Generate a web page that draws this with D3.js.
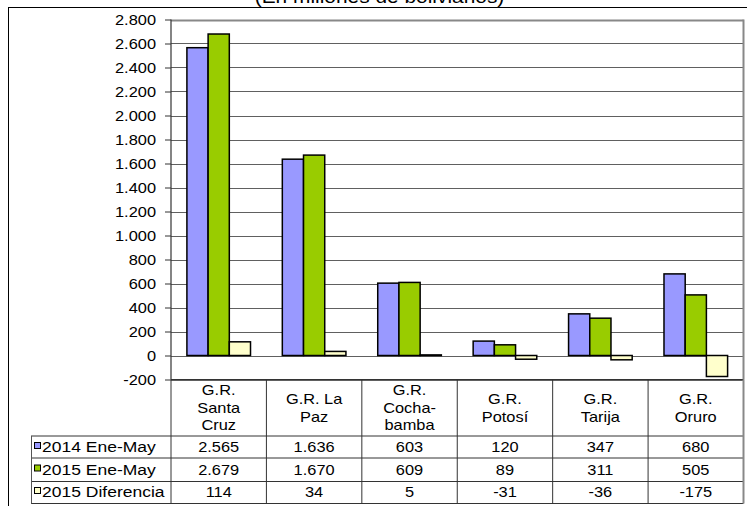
<!DOCTYPE html>
<html>
<head>
<meta charset="utf-8">
<script src="https://cdn.jsdelivr.net/npm/d3@7"></script>
<style>
  html, body { margin: 0; padding: 0; background: #fff; }
  svg { display: block; }
  text { font-family: "Liberation Sans", Arial, sans-serif; fill: #000; }
</style>
</head>
<body>
<script>
// ---- data ----
const title = "(En millones de bolivianos)";
const categories = ["G.R. Santa Cruz", "G.R. La Paz", "G.R. Cochabamba", "G.R. Potosí", "G.R. Tarija", "G.R. Oruro"];
const categoryLines = [["G.R.", "Santa", "Cruz"], ["G.R. La", "Paz"], ["G.R.", "Cocha-", "bamba"], ["G.R.", "Potosí"], ["G.R.", "Tarija"], ["G.R.", "Oruro"]];
const seriesNames = ["2014 Ene-May", "2015 Ene-May", "2015 Diferencia"];
const values2014 = [2565, 1636, 603, 120, 347, 680];
const values2015 = [2679, 1670, 609, 89, 311, 505];
const valuesDiff = [114, 34, 5, -31, -36, -175];
const seriesColors = ["#9999FF", "#99CC00", "#FFFFCC"];
const yTicks = [-200, 0, 200, 400, 600, 800, 1000, 1200, 1400, 1600, 1800, 2000, 2200, 2400, 2600, 2800];

const seriesValues = [values2014, values2015, valuesDiff];

const W = 747, H = 506;
const svg = d3.select("body").append("svg").attr("width", W).attr("height", H);

const loc = d3.formatLocale({decimal: ",", thousands: ".", grouping: [3], currency: ["", ""], minus: "-"});
const fmt = loc.format(",d");

const SX = 1.13;   // horizontal stretch of text
const FS = 14.5;
function stext(g, x, y, str, anchor, size) {
  return g.append("text")
    .attr("transform", `translate(${x},${y}) scale(${SX},1)`)
    .attr("text-anchor", anchor)
    .attr("font-size", size || FS)
    .text(str);
}

// layout
const plotL = 171, plotR = 743.5, plotT = 19.5, plotB = 379.5;
const x0 = d3.scaleBand().domain(categories).range([plotL, plotR]).paddingInner(0).paddingOuter(0);
const x1 = d3.scaleBand().domain(seriesNames).range([0, x0.bandwidth()]).paddingInner(0).paddingOuter(0.75);
const y = d3.scaleLinear().domain([-200, 2800]).range([plotB, plotT]);

// outer frame
svg.append("line").attr("x1", 8).attr("x2", W).attr("y1", 7.5).attr("y2", 7.5).attr("stroke", "#000").attr("stroke-width", 1);
svg.append("line").attr("x1", 8.5).attr("x2", 8.5).attr("y1", 7.5).attr("y2", H).attr("stroke", "#000").attr("stroke-width", 1);

// title (partially cut, as in the reference)
stext(svg, 379.5, 3, title, "middle", 18.5);

// gridlines
svg.append("g").selectAll("line").data(yTicks).join("line")
  .attr("x1", plotL).attr("x2", plotR)
  .attr("y1", d => Math.round(y(d)) + 0.5).attr("y2", d => Math.round(y(d)) + 0.5)
  .attr("stroke", d => d === 2800 ? "#888" : "#606060")
  .attr("stroke-width", d => d === 2800 ? 2 : 1);

// plot right border
svg.append("line").attr("x1", plotR).attr("x2", plotR).attr("y1", plotT).attr("y2", plotB)
  .attr("stroke", "#888").attr("stroke-width", 2);

// bars
const groups = svg.append("g").selectAll("g").data(categories).join("g")
  .attr("transform", d => `translate(${x0(d)},0)`);
groups.selectAll("rect")
  .data((c, i) => seriesNames.map((s, k) => ({s, k, v: seriesValues[k][i]})))
  .join("rect")
  .attr("x", d => x1(d.s))
  .attr("width", x1.bandwidth())
  .attr("y", d => y(Math.max(0, d.v)))
  .attr("height", d => Math.abs(y(d.v) - y(0)))
  .attr("fill", d => seriesColors[d.k])
  .attr("stroke", "#000").attr("stroke-width", 1.5);

// y axis
const yAxis = d3.axisLeft(y).tickValues(yTicks).tickFormat(fmt).tickSize(6).tickPadding(0);
const ga = svg.append("g").attr("transform", `translate(${plotL},0)`).call(yAxis);
ga.select(".domain").remove();
ga.selectAll(".tick line").attr("stroke", "#333");
ga.selectAll(".tick text").remove();
ga.selectAll(".tick").each(function(d) {
  stext(d3.select(this), -15, 5, fmt(d), "end");
});
svg.append("line").attr("x1", plotL).attr("x2", plotL).attr("y1", plotT).attr("y2", plotB)
  .attr("stroke", "#333").attr("stroke-width", 1.2);

// data table
const rowTops = [436, 458, 481.5, 503.5];
const legL = 31;
const tbl = svg.append("g");
tbl.append("line").attr("x1", plotL).attr("x2", plotR).attr("y1", plotB).attr("y2", plotB).attr("stroke", "#333");
rowTops.forEach(yy => {
  tbl.append("line").attr("x1", legL).attr("x2", plotR).attr("y1", yy).attr("y2", yy).attr("stroke", "#333");
});
const colEdges = categories.map(c => x0(c)).concat([plotR]);
colEdges.forEach((xx, i) => {
  tbl.append("line").attr("x1", xx).attr("x2", xx)
    .attr("y1", plotB).attr("y2", rowTops[3])
    .attr("stroke", i === colEdges.length - 1 ? "#888" : "#333")
    .attr("stroke-width", i === colEdges.length - 1 ? 2 : 1);
});
tbl.append("line").attr("x1", legL + 0.5).attr("x2", legL + 0.5).attr("y1", rowTops[0]).attr("y2", rowTops[3]).attr("stroke", "#555");

// header labels
categories.forEach((c, i) => {
  const lines = categoryLines[i];
  const cx = x0(c) + x0.bandwidth() / 2;
  lines.forEach((ln, j) => {
    stext(tbl, cx, 412.8 + (j - (lines.length - 1) / 2) * 17.4, ln, "middle");
  });
});

// rows
const rowBase = [452, 474.5, 497];
seriesNames.forEach((s, k) => {
  tbl.append("rect").attr("x", 34.5).attr("y", rowBase[k] - 9.5).attr("width", 6).attr("height", 6)
    .attr("fill", seriesColors[k]).attr("stroke", "#000").attr("stroke-width", 1);
  stext(tbl, 42, rowBase[k], s, "start", 15.5);
  categories.forEach((c, i) => {
    stext(tbl, x0(c) + x0.bandwidth() / 2, rowBase[k], fmt(seriesValues[k][i]), "middle");
  });
});
</script>
</body>
</html>
